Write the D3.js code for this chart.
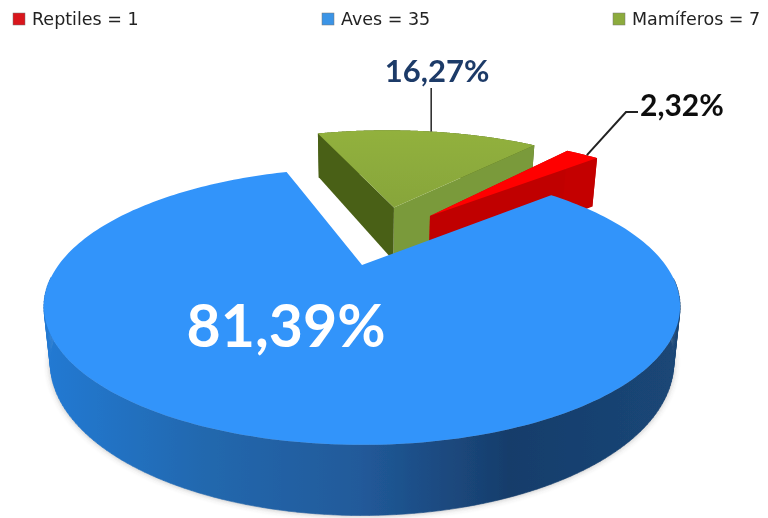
<!DOCTYPE html>
<html><head><meta charset="utf-8">
<script src="https://cdn.jsdelivr.net/npm/d3@7"></script>
<style>html,body{margin:0;padding:0;background:#fff}svg{display:block}text{font-family:Lato,"Open Sans",sans-serif}</style>
</head><body><svg id="c" width="768" height="518"></svg>
<script>
const categories = ["Reptiles","Aves","Mamíferos"];
const values = [1,35,7];
const percentLabels = ["2,32%","81,39%","16,27%"];
const topColors = ["#ff0000","#3394fa","#8cab3c"];
const wallColors = ["#c00000","#22609f","#4a6118"];
const backWallColors = ["#c40000","#1d4f85","#7a9a3a"];

// perspective camera of the pie plane
const cam = {cx:362, cy:265, R:303.5, k:126, D:3.34, bottomScale:0.98};
// exploded position of each slice in the pie plane
const poses = [
  {ox:0.2535, oy:0.44,  r:1.05, h:62},
  {ox:0,      oy:0,     r:1,    h:52},
  {ox:0.122,  oy:0.528, r:1.045, h:60}
];
function project(p, theta, rr, bottom){
  const X = p.ox + rr*p.r*Math.sin(theta), Y = p.oy + rr*p.r*Math.cos(theta);
  const s = cam.D/(cam.D+Y), b = bottom ? cam.bottomScale : 1;
  return [cam.cx + cam.R*X*s*b, cam.cy - cam.k*Y*s*b + (bottom ? p.h*s : 0)];
}
const rad = d => d*Math.PI/180;
const pie = d3.pie().sort(null).startAngle(rad(40)).endAngle(rad(400));
const arcs = pie(values);
const line = d3.line();
const closed = d3.line().curve(d3.curveLinearClosed);
const angles = a => d3.range(0,241).map(i => a.startAngle+(a.endAngle-a.startAngle)*i/240);

const svg = d3.select("#c");
const defs = svg.append("defs");
defs.append("filter").attr("id","soft").attr("x","-5%").attr("y","-5%").attr("width","110%").attr("height","110%")
  .append("feGaussianBlur").attr("stdDeviation",0.55);
defs.append("filter").attr("id","shadow").attr("x","-5%").attr("y","-5%").attr("width","110%").attr("height","110%")
  .append("feGaussianBlur").attr("stdDeviation",3);
const wallGrad = defs.append("linearGradient").attr("id","blueWall").attr("gradientUnits","userSpaceOnUse")
  .attr("x1",50).attr("x2",670).attr("y1",0).attr("y2",0);
[[0,"#2379d2"],[0.25,"#2468ae"],[0.5,"#215a9a"],[0.74,"#173d6b"],[1,"#1a4676"]].forEach(s=>
  wallGrad.append("stop").attr("offset",s[0]).attr("stop-color",s[1]));
const greenGrad = defs.append("linearGradient").attr("id","greenTop").attr("x1",0).attr("x2",0).attr("y1",0).attr("y2",1);
[[0,"#92b13e"],[1,"#87a53a"]].forEach(s=>greenGrad.append("stop").attr("offset",s[0]).attr("stop-color",s[1]));
const legGrads = ["#d9141c","#3a94e6","#8cab3c"];

const root = svg.append("g").attr("filter","url(#soft)");

function drawSlice(i){
  const a = arcs[i], p = poses[i], g = root.append("g");
  const th = angles(a), last = th.length-1;
  const outerTop = th.map(t=>project(p,t,1,false));
  const outerBot = th.map(t=>project(p,t,1,true));
  const apexTop = project(p,0,0,false), apexBot = project(p,0,0,true);
  if(i===1){
    const front = d3.range(0,last).filter(j=>Math.cos(th[j])<-0.1);
    g.append("path").attr("d",closed(outerBot.concat([apexBot])))
      .attr("fill","#555").attr("opacity",0.45).attr("filter","url(#shadow)");
    const fill = "url(#blueWall)";
    const quads = front.map(j=>closed([outerTop[j],outerTop[j+1],outerBot[j+1],outerBot[j]])).join("");
    g.append("path").attr("d",quads).attr("fill",fill).attr("stroke",fill).attr("stroke-width",0.6);
  }else{
    g.append("path").attr("d",closed(outerTop.concat(outerBot.slice().reverse())))
      .attr("fill",wallColors[i]);
    g.append("path").attr("d",closed([apexTop,outerTop[last],outerBot[last],apexBot]))
      .attr("fill",backWallColors[i]);
    g.append("path").attr("d",closed([apexTop,outerTop[0],outerBot[0],apexBot]))
      .attr("fill",wallColors[i]);
  }
  g.append("path").attr("d",closed(outerTop.concat([apexTop])))
    .attr("fill", i===2 ? "url(#greenTop)" : topColors[i]);
}
[2,0,1].forEach(drawSlice);

// leader lines start on the rim of their slice
const greenRim = project(poses[2], (arcs[2].startAngle+arcs[2].endAngle)/2+rad(1), 1, false);
root.append("path").attr("d",line([[greenRim[0],greenRim[1]],[greenRim[0],88]]))
  .attr("fill","none").attr("stroke","#333").attr("stroke-width",1.6);
const redRim = project(poses[0], (arcs[0].startAngle+arcs[0].endAngle)/2+rad(1), 1, false);
root.append("path").attr("d",line([[redRim[0]+1,redRim[1]],[626,112],[638,112]]))
  .attr("fill","none").attr("stroke","#222").attr("stroke-width",2);

// percentage labels
const labelPlace = [
  {x:640,y:116,size:30,fill:"#111",anchor:"start"},
  {x:286,y:347,size:59,fill:"#ffffff",anchor:"middle"},
  {x:437,y:82,size:31,fill:"#1f3a68",anchor:"middle"}
];
root.selectAll("text.pct").data(percentLabels).join("text").attr("class","pct")
  .attr("x",(d,i)=>labelPlace[i].x).attr("y",(d,i)=>labelPlace[i].y)
  .attr("font-size",(d,i)=>labelPlace[i].size).attr("font-weight",700)
  .attr("fill",(d,i)=>labelPlace[i].fill).attr("text-anchor",(d,i)=>labelPlace[i].anchor)
  .text(d=>d);

// legend
const legendX = [13,322,613];
const leg = root.selectAll("g.leg").data(categories).join("g").attr("class","leg")
  .attr("transform",(d,i)=>`translate(${legendX[i]},0)`);
leg.append("rect").attr("x",0).attr("y",13).attr("width",12).attr("height",12)
  .attr("fill",(d,i)=>legGrads[i]).attr("stroke","#777").attr("stroke-width",0.5);
leg.append("text").attr("x",19).attr("y",25).attr("font-size",17.5).attr("fill","#222")
  .style("font-family","'DejaVu Sans',sans-serif")
  .text((d,i)=>`${d} = ${values[i]}`);
</script></body></html>
